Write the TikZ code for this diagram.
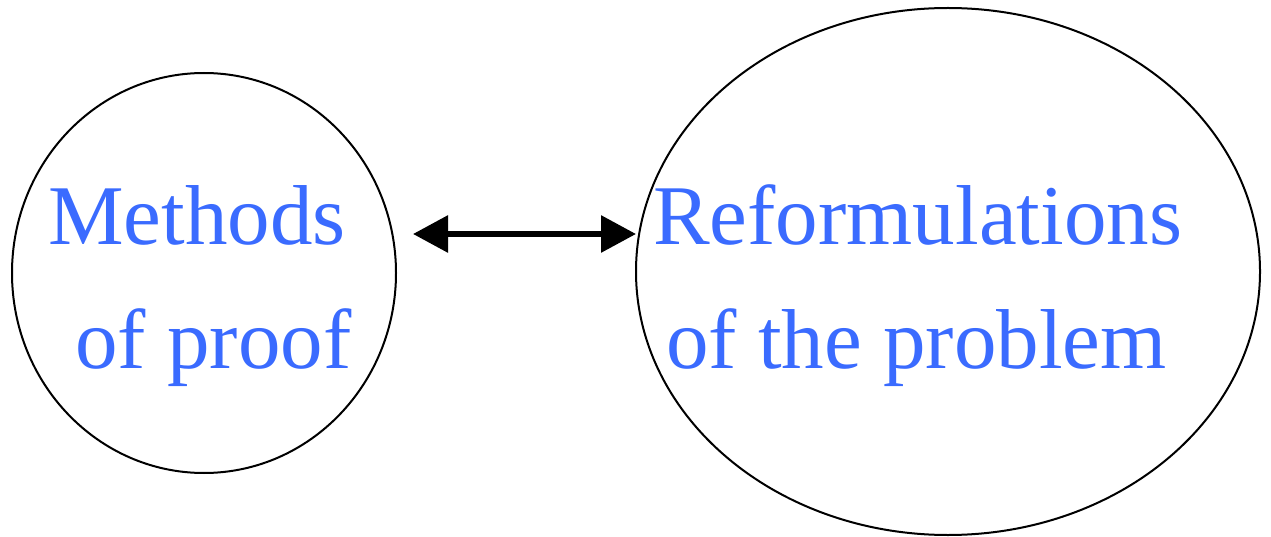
\documentclass[tikz,border=0pt]{standalone}
\usepackage{fontspec}
\setmainfont{Liberation Serif}
\usetikzlibrary{shapes.geometric,arrows.meta}
\definecolor{txtblue}{RGB}{58,107,255}
\tikzset{
  bubble/.style={draw=black, line width=2pt, ellipse, inner sep=0pt},
  lbl/.style={anchor=base west, inner sep=0pt, text=txtblue, font=\fontsize{85}{100}\selectfont},
  link/.style={line width=6pt, {Triangle[length=35pt,width=36pt]}-{Triangle[length=35pt,width=36pt]}}
}
\begin{document}
\begin{tikzpicture}[x=1pt,y=-1pt]
\useasboundingbox (0,0) rectangle (1271,537);
\node[bubble, minimum width=384pt, minimum height=400pt] (left) at (204,273) {};
\node[bubble, minimum width=624pt, minimum height=527pt] (right) at (948,271.5) {};
\node[lbl] (m1) at (48,245) {Methods};
\node[lbl] (m2) at (75,368) {of proof};
\node[lbl] (r1) at (653,245) {Reformulations};
\node[lbl] (r2) at (666,368) {of the problem};
\coordinate (a) at (413,234);
\coordinate (b) at (636,234);
\draw[link] (a) -- (b);
\end{tikzpicture}
\end{document}
